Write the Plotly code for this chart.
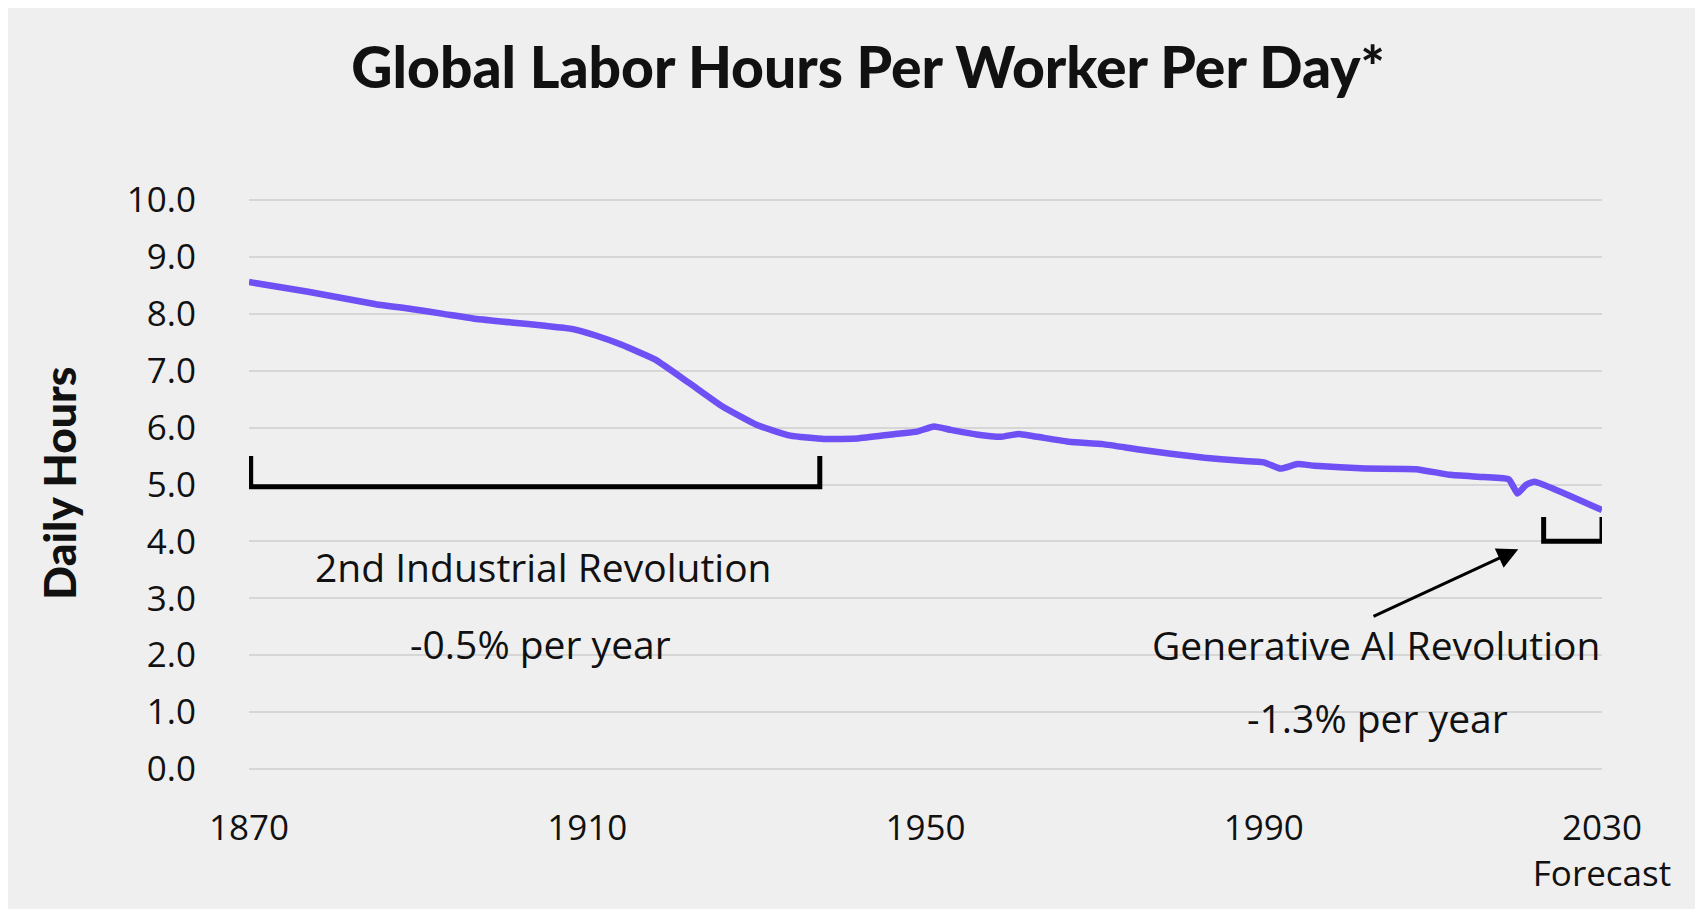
import plotly.graph_objects as go

# ---- data ----
years = [1870, 1877, 1885, 1889, 1893, 1897, 1901, 1905, 1908, 1911, 1914, 1918,
         1922, 1926, 1930, 1934, 1938, 1942, 1946, 1949, 1951, 1953, 1956, 1959,
         1961, 1964, 1967, 1971, 1975, 1979, 1983, 1987, 1990, 1992, 1994, 1996,
         2002, 2008, 2012, 2016, 2019, 2020, 2021, 2022, 2030]
hours = [8.56, 8.39, 8.17, 8.09, 8.00, 7.91, 7.85, 7.79, 7.74, 7.62, 7.46, 7.20,
         6.79, 6.37, 6.05, 5.86, 5.80, 5.81, 5.88, 5.93, 6.02, 5.96, 5.88, 5.84,
         5.89, 5.82, 5.75, 5.71, 5.62, 5.54, 5.47, 5.42, 5.39, 5.28, 5.36, 5.33,
         5.28, 5.27, 5.17, 5.13, 5.09, 4.84, 4.99, 5.05, 4.55]

x_tickvals = [1870, 1910, 1950, 1990, 2030]
x_ticktext = ["1870", "1910", "1950", "1990", "2030<br>Forecast"]
y_tickvals = [0, 1, 2, 3, 4, 5, 6, 7, 8, 9, 10]
y_ticktext = ["0.0", "1.0", "2.0", "3.0", "4.0", "5.0", "6.0", "7.0", "8.0", "9.0", "10.0"]

# bracket spans: (start year, end year, top value, bottom value)
bracket_industrial = (1870.2, 1937.5, 5.50, 4.96)
bracket_ai = (2023.1, 2030.0, 4.43, 4.00)

# annotation texts with anchor (year, value)
labels = [
    ("2nd Industrial Revolution", 1904.8, 3.55),
    ("-0.5% per year", 1904.5, 2.21),
    ("Generative AI Revolution", 2003.3, 2.18),
    ("-1.3% per year", 2003.4, 0.90),
]
arrow_tail = (2002.8, 2.67)
arrow_head = (2020.1, 3.86)

TITLE_FONT = "Lato"
FONT = "Open Sans"
TXT = "#111111"
BG = "#efefef"

fig = go.Figure()
fig.add_trace(go.Scatter(
    x=years, y=hours, mode="lines",
    line=dict(color="#6E50F5", width=6.5, shape="spline", smoothing=0.4),
    hoverinfo="x+y", showlegend=False,
))

def bracket_path(b):
    x0, x1, top, bot = b
    return f"M {x0},{top} L {x0},{bot} L {x1},{bot} L {x1},{top}"

shapes = [
    dict(type="path", xref="x", yref="y", path=bracket_path(bracket_industrial),
         line=dict(color="#000000", width=5)),
    dict(type="path", xref="x", yref="y", path=bracket_path(bracket_ai),
         line=dict(color="#000000", width=5)),
]

annotations = []
for text, xv, yv in labels:
    annotations.append(dict(x=xv, y=yv, xref="x", yref="y", text=text, showarrow=False,
                            font=dict(family=FONT, size=39, color=TXT),
                            xanchor="center", yanchor="middle"))
annotations.append(dict(x=arrow_head[0], y=arrow_head[1], xref="x", yref="y",
                        ax=arrow_tail[0], ay=arrow_tail[1], axref="x", ayref="y",
                        text="", showarrow=True, arrowhead=2, arrowsize=1.4,
                        arrowwidth=3, arrowcolor="#000000"))
annotations.append(dict(x=-0.1405, y=0.503, xref="paper", yref="paper",
                        text="Daily Hours", textangle=-90, showarrow=False,
                        font=dict(family=TITLE_FONT, size=44.5, color=TXT, weight=900),
                        xanchor="center", yanchor="middle"))

fig.update_layout(
    width=1695, height=901,
    margin=dict(l=241, r=101, t=191, b=139),
    paper_bgcolor=BG, plot_bgcolor=BG,
    title=dict(text="Global Labor Hours Per Worker Per Day*",
               x=0.5074, xref="container", xanchor="center",
               y=0.9329, yref="container", yanchor="middle",
               font=dict(family=TITLE_FONT, size=57, color=TXT, weight=900)),
    shapes=shapes, annotations=annotations,
    xaxis=dict(range=[1870, 2030], tickvals=x_tickvals, ticktext=x_ticktext,
               showgrid=False, zeroline=False, showline=False, ticks="",
               tickfont=dict(family=FONT, size=35, color=TXT),
               ticklabelstandoff=34),
    yaxis=dict(range=[-0.02, 10.02], tickvals=y_tickvals, ticktext=y_ticktext,
               showgrid=True, gridcolor="#d6d6d6", gridwidth=2,
               zeroline=False, showline=False, ticks="",
               tickfont=dict(family=FONT, size=35, color=TXT),
               ticklabelstandoff=52),
)

fig.write_html("out.html")
